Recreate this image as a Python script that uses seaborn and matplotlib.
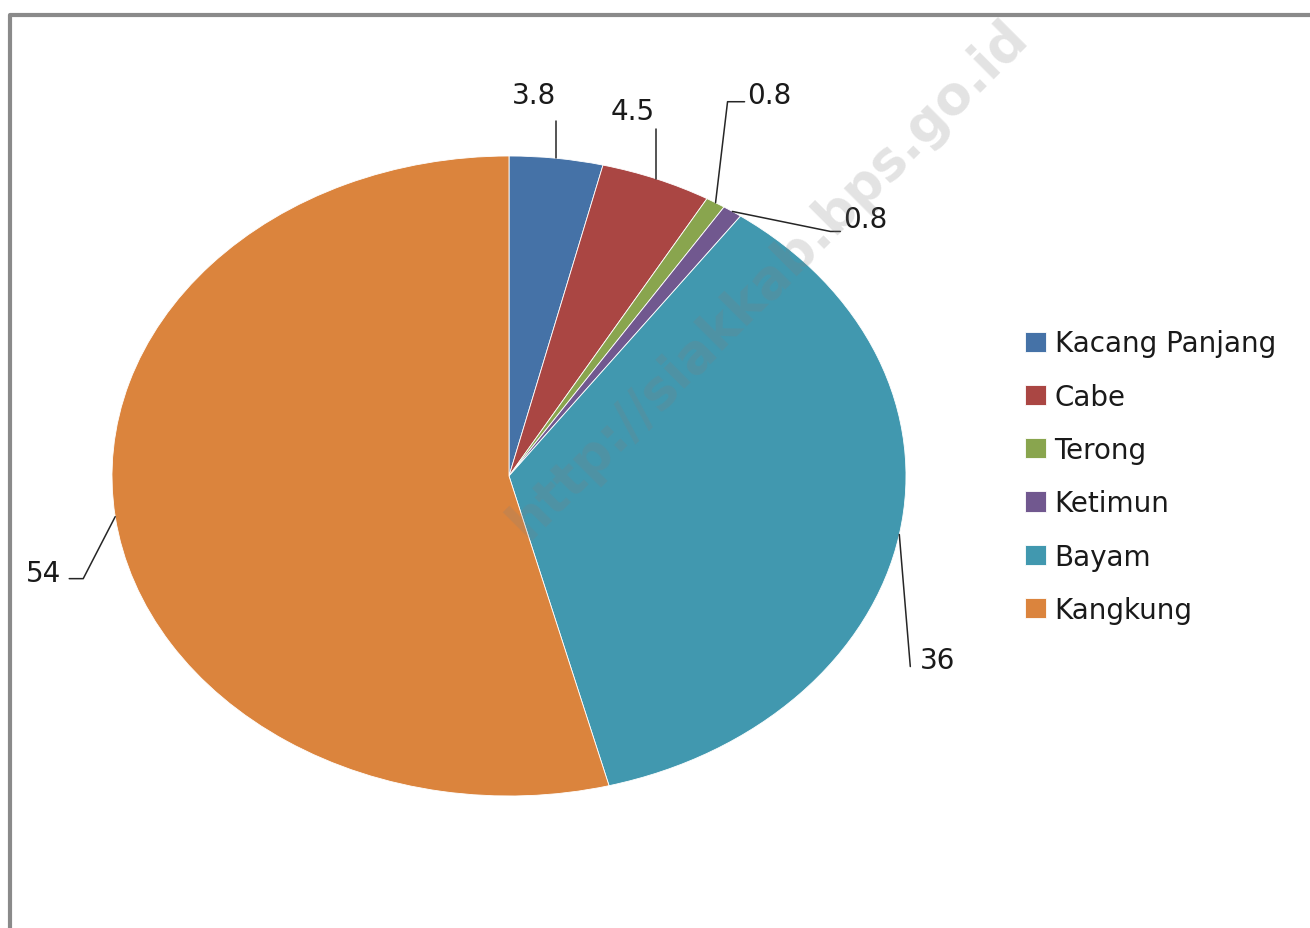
import numpy as np
import matplotlib
matplotlib.use("Agg")
import matplotlib.pyplot as plt
from matplotlib.lines import Line2D
import seaborn as sns

# data ========================================================================
kategori = ["Kacang Panjang", "Cabe", "Terong", "Ketimun", "Bayam", "Kangkung"]
nilai = [3.8, 4.5, 0.8, 0.8, 36, 54]
warna = ["#4572A7", "#AA4643", "#89A54E", "#71588F", "#4198AF", "#DB843D"]

sns.set_theme(style="white")
plt.rcParams["font.family"] = ["DejaVu Sans"]

W, H = 1310, 929
fig = plt.figure(figsize=(W / 100, H / 100), dpi=100)
fig.patch.set_facecolor("white")

# pie (elliptical) ============================================================
cx, cy, rx, ry = 509, 477, 397, 320
ax = fig.add_axes([(cx - rx) / W, (H - cy - ry) / H, 2 * rx / W, 2 * ry / H])
wedges, _ = ax.pie(nilai, colors=sns.color_palette(warna), startangle=90,
                   counterclock=False, radius=1,
                   wedgeprops=dict(linewidth=0.6, edgecolor="white"))
ax.set_aspect("auto")
ax.set_xlim(-1, 1)
ax.set_ylim(-1, 1)
ax.axis("off")

# data labels with leader lines (offsets in px, y downward) ===================
leader = [
    ([(0, -37)], (-22, -63)),
    ([(0, -50)], (-24, -68)),
    ([(12, -101), (29, -101)], (54, -108)),
    ([(98, 20), (108, 20)], (133, 8)),
    ([(11, 132)], (38, 125)),
    ([(-32, 62), (-46, 62)], (-72, 56)),
]
total = sum(nilai)
cum = np.cumsum([0] + nilai[:-1])
for v, c0, (pts, tpos) in zip(nilai, cum, leader):
    ang = np.deg2rad(90 - (c0 + v / 2) / total * 360)
    ex, ey = np.cos(ang), np.sin(ang)
    xs = [ex] + [ex + dx / rx for dx, dy in pts]
    ys = [ey] + [ey - dy / ry for dx, dy in pts]
    ax.plot(xs, ys, color="#262626", lw=1.1, clip_on=False)
    ax.text(ex + tpos[0] / rx, ey - tpos[1] / ry, f"{v:g}", fontsize=20,
            ha="center", va="center", color="#1a1a1a", clip_on=False)

# legend ======================================================================
leg = fig.legend(wedges, kategori, loc="upper left",
                 bbox_to_anchor=(1006 / W, 1 - 311 / H), frameon=False,
                 fontsize=20, handlelength=0.75, handleheight=0.75,
                 handletextpad=0.3, labelspacing=0.91, borderpad=0.2)
for t in leg.get_texts():
    t.set_color("#1a1a1a")

# watermark ===================================================================
fig.text(768 / W, 1 - 280 / H, "http://siakkab.bps.go.id", fontsize=38,
         fontweight="bold", rotation=45, color="#808080", alpha=0.22,
         ha="center", va="center", rotation_mode="anchor")

# frame =======================================================================
fig.add_artist(Line2D([10 / W, 10 / W, 1.0], [0.0, 1 - 16 / H, 1 - 16 / H],
                      color="#8a8a8a", lw=3, transform=fig.transFigure))

fig.savefig("out.png", dpi=100, facecolor="white")
